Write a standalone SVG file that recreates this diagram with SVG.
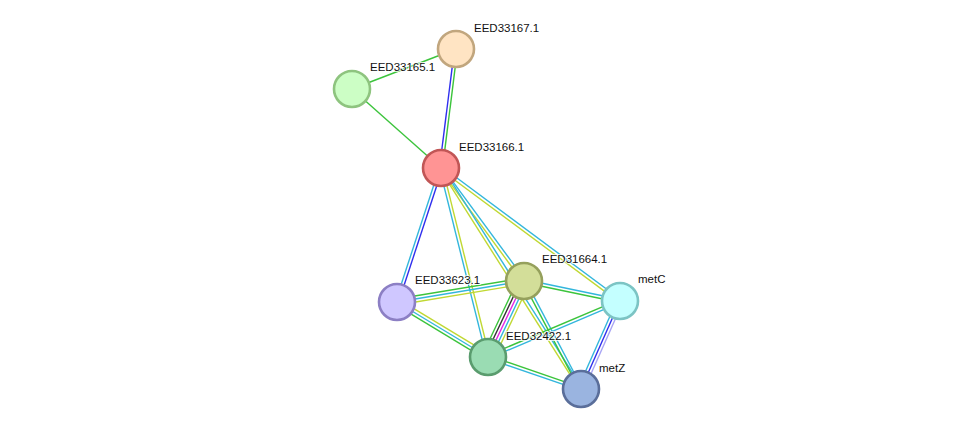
<svg xmlns="http://www.w3.org/2000/svg" width="976" height="435" viewBox="0 0 976 435">
  <style>
    .e line { stroke-width: 1.4; fill: none; }
    .g { stroke: #3cc43c; }
    .c { stroke: #33b6dc; }
    .y { stroke: #c0d832; }
    .b { stroke: #2f2fee; }
    .k { stroke: #333333; }
    .m { stroke: #e626e6; }
    .p { stroke: #a8a4f4; }
    .node circle { stroke-width: 2.6; }
    .lbl { font-family: "Liberation Sans", Arial, sans-serif; font-size: 11.5px; fill: #111; stroke: #ffffff; stroke-width: 2; stroke-opacity: 0.8; paint-order: stroke; }
  </style>
  <rect width="976" height="435" fill="#ffffff"/>

  <!-- interaction edges: each evidence channel is a parallel line, drawn along +x then rotated -->
  <g id="edges" class="e">
    <!-- EED33165.1 - EED33167.1 -->
    <g transform="translate(352,89) rotate(-21.04)"><line class="g" x1="0" y1="0" x2="111.4" y2="0"/></g>
    <!-- EED33165.1 - EED33166.1 -->
    <g transform="translate(352,89) rotate(41.6)"><line class="g" x1="0" y1="0" x2="119" y2="0"/></g>
    <!-- EED33167.1 - EED33166.1 -->
    <g transform="translate(456,49) rotate(97.18)">
      <line class="b" x1="0" y1="1.5" x2="119.9" y2="1.5"/>
      <line class="g" x1="0" y1="-1.5" x2="119.9" y2="-1.5"/>
    </g>
    <!-- EED33166.1 - EED33623.1 -->
    <g transform="translate(441,168) rotate(108.18)">
      <line class="c" x1="0" y1="1.5" x2="141" y2="1.5"/>
      <line class="b" x1="0" y1="-1.5" x2="141" y2="-1.5"/>
    </g>
    <!-- EED33166.1 - EED32422.1 -->
    <g transform="translate(441,168) rotate(76.03)">
      <line class="c" x1="0" y1="1.5" x2="194.8" y2="1.5"/>
      <line class="y" x1="0" y1="-1.5" x2="194.8" y2="-1.5"/>
    </g>
    <!-- EED33166.1 - EED31664.1 -->
    <g transform="translate(441,168) rotate(53.7)">
      <line class="y" x1="0" y1="1.5" x2="140.2" y2="1.5"/>
      <line class="c" x1="0" y1="-1.5" x2="140.2" y2="-1.5"/>
    </g>
    <!-- EED33166.1 - metC -->
    <g transform="translate(441,168) rotate(36.6)">
      <line class="c" x1="0" y1="-1.5" x2="223" y2="-1.5"/>
      <line class="y" x1="0" y1="1.5" x2="223" y2="1.5"/>
    </g>
    <!-- EED33166.1 - metZ -->
    <g transform="translate(441,168) rotate(57.65)">
      <line class="y" x1="0" y1="1.5" x2="261.6" y2="1.5"/>
      <line class="c" x1="0" y1="-1.5" x2="261.6" y2="-1.5"/>
    </g>
    <!-- EED33623.1 - EED31664.1 -->
    <g transform="translate(397,302) rotate(-9.39)">
      <line class="g" x1="0" y1="-3" x2="128.7" y2="-3"/>
      <line class="c" x1="0" y1="0" x2="128.7" y2="0"/>
      <line class="y" x1="0" y1="3" x2="128.7" y2="3"/>
    </g>
    <!-- EED33623.1 - EED32422.1 -->
    <g transform="translate(397,302) rotate(31.15)">
      <line class="y" x1="0" y1="-3" x2="106.3" y2="-3"/>
      <line class="c" x1="0" y1="0" x2="106.3" y2="0"/>
      <line class="g" x1="0" y1="3" x2="106.3" y2="3"/>
    </g>
    <!-- EED31664.1 - EED32422.1 -->
    <g transform="translate(524,281) rotate(115.35)">
      <line class="g" x1="0" y1="6" x2="84.1" y2="6"/>
      <line class="k" x1="0" y1="3" x2="84.1" y2="3"/>
      <line class="m" x1="0" y1="0" x2="84.1" y2="0"/>
      <line class="c" x1="0" y1="-3" x2="84.1" y2="-3"/>
      <line class="y" x1="0" y1="-6" x2="84.1" y2="-6"/>
    </g>
    <!-- EED31664.1 - metC -->
    <g transform="translate(524,281) rotate(11.77)">
      <line class="c" x1="0" y1="-1.5" x2="98.1" y2="-1.5"/>
      <line class="g" x1="0" y1="1.5" x2="98.1" y2="1.5"/>
    </g>
    <!-- EED31664.1 - metZ -->
    <g transform="translate(524,281) rotate(62.18)">
      <line class="g" x1="0" y1="1.5" x2="122.1" y2="1.5"/>
      <line class="c" x1="0" y1="-1.5" x2="122.1" y2="-1.5"/>
    </g>
    <!-- EED32422.1 - metC -->
    <g transform="translate(488,357) rotate(-22.99)">
      <line class="g" x1="0" y1="-1.5" x2="143.4" y2="-1.5"/>
      <line class="c" x1="0" y1="1.5" x2="143.4" y2="1.5"/>
    </g>
    <!-- EED32422.1 - metZ -->
    <g transform="translate(488,357) rotate(18.99)">
      <line class="g" x1="0" y1="-1.5" x2="98.4" y2="-1.5"/>
      <line class="c" x1="0" y1="1.5" x2="98.4" y2="1.5"/>
    </g>
    <!-- metC - metZ -->
    <g transform="translate(620,301) rotate(113.9)">
      <line class="c" x1="0" y1="3" x2="96.3" y2="3"/>
      <line class="b" x1="0" y1="0" x2="96.3" y2="0"/>
      <line class="p" x1="0" y1="-3" x2="96.3" y2="-3"/>
    </g>
  </g>

  <!-- protein nodes -->
  <g id="EED33167.1" class="node">
    <circle cx="456" cy="49" r="18" fill="#ffe4c3" stroke="#c1a67e"/>
    <text class="lbl" x="474" y="32">EED33167.1</text>
  </g>
  <g id="EED33165.1" class="node">
    <circle cx="352" cy="89" r="18" fill="#ccfec5" stroke="#8ec47f"/>
    <text class="lbl" x="370" y="71">EED33165.1</text>
  </g>
  <g id="EED33166.1" class="node">
    <circle cx="441" cy="168" r="18" fill="#ff9494" stroke="#c15656"/>
    <text class="lbl" x="459" y="151">EED33166.1</text>
  </g>
  <g id="EED33623.1" class="node">
    <circle cx="397" cy="302" r="18" fill="#cfc7ff" stroke="#8c7fc4"/>
    <text class="lbl" x="415" y="284">EED33623.1</text>
  </g>
  <g id="EED31664.1" class="node">
    <circle cx="524" cy="281" r="18" fill="#d3de99" stroke="#95a05c"/>
    <text class="lbl" x="542" y="263">EED31664.1</text>
  </g>
  <g id="metC" class="node">
    <circle cx="620" cy="301" r="18" fill="#c4ffff" stroke="#7cc4c4"/>
    <text class="lbl" x="638" y="283">metC</text>
  </g>
  <g id="EED32422.1" class="node">
    <circle cx="488" cy="357" r="18" fill="#9adcb3" stroke="#5a9c6e"/>
    <text class="lbl" x="506" y="340">EED32422.1</text>
  </g>
  <g id="metZ" class="node">
    <circle cx="581" cy="389" r="18" fill="#9ab4e0" stroke="#5a6e9a"/>
    <text class="lbl" x="599" y="372">metZ</text>
  </g>
</svg>
